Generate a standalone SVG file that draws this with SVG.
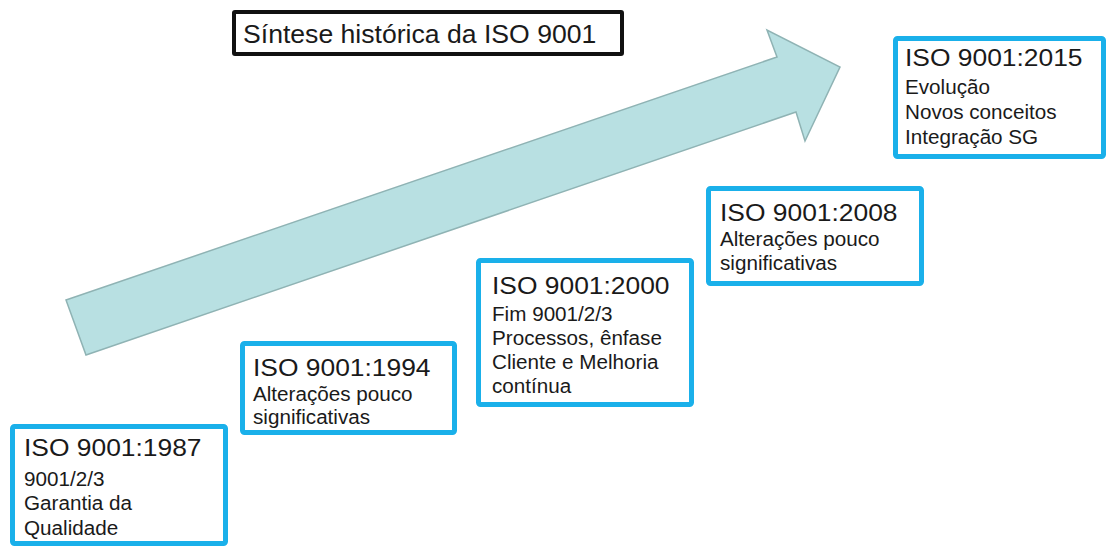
<svg xmlns="http://www.w3.org/2000/svg" width="1106" height="546" viewBox="0 0 1106 546">
<style>
.box{fill:#ffffff;stroke:#1ab0ea;stroke-width:5;}
.hd{font-family:"Liberation Sans",Arial,sans-serif;font-size:24px;fill:#1a1a1a;}
.bd{font-family:"Liberation Sans",Arial,sans-serif;font-size:19.5px;fill:#1a1a1a;}
.ttl{font-family:"Liberation Sans",Arial,sans-serif;font-size:26.6px;fill:#1a1a1a;}
</style>
<rect width="1106" height="546" fill="#ffffff"/>
<g id="connectors">
<polygon points="66,300 777,57 767,30 840,67 805,141 796,112 86,355" fill="#b8e0e2" stroke="#8fb3b4" stroke-width="1.5" stroke-linejoin="miter"/>
</g>
<g id="title">
<rect x="234" y="12" width="388" height="42" fill="#ffffff" stroke="#111111" stroke-width="4" rx="1"/>
<text class="ttl" x="243" y="43">Síntese histórica da ISO 9001</text>
</g>
<g id="iso1987">
<rect class="box" x="12.5" y="426.5" width="213" height="117" rx="2"/>
<g transform="translate(24,0) scale(1.1,1)"><text class="hd" x="0" y="456">ISO 9001:1987</text></g>
<g transform="translate(24,0) scale(1.06,1)">
<text class="bd" x="0" y="486">9001/2/3</text>
<text class="bd" x="0" y="510">Garantia da</text>
<text class="bd" x="0" y="535">Qualidade</text>
</g>
</g>
<g id="iso1994">
<rect class="box" x="242.5" y="343.5" width="212" height="89" rx="2"/>
<g transform="translate(253,0) scale(1.1,1)"><text class="hd" x="0" y="376">ISO 9001:1994</text></g>
<g transform="translate(253,0) scale(1.06,1)">
<text class="bd" x="0" y="401">Alterações pouco</text>
<text class="bd" x="0" y="424">significativas</text>
</g>
</g>
<g id="iso2000">
<rect class="box" x="478.5" y="260.5" width="213" height="144" rx="2"/>
<g transform="translate(492,0) scale(1.1,1)"><text class="hd" x="0" y="294">ISO 9001:2000</text></g>
<g transform="translate(492,0) scale(1.06,1)">
<text class="bd" x="0" y="321">Fim 9001/2/3</text>
<text class="bd" x="0" y="345">Processos, ênfase</text>
<text class="bd" x="0" y="369">Cliente e Melhoria</text>
<text class="bd" x="0" y="393">contínua</text>
</g>
</g>
<g id="iso2008">
<rect class="box" x="708.5" y="188.5" width="213" height="95" rx="2"/>
<g transform="translate(720,0) scale(1.1,1)"><text class="hd" x="0" y="221">ISO 9001:2008</text></g>
<g transform="translate(720,0) scale(1.06,1)">
<text class="bd" x="0" y="246">Alterações pouco</text>
<text class="bd" x="0" y="270">significativas</text>
</g>
</g>
<g id="iso2015">
<rect class="box" x="895.5" y="38.5" width="208" height="118" rx="2"/>
<g transform="translate(905,0) scale(1.1,1)"><text class="hd" x="0" y="66">ISO 9001:2015</text></g>
<g transform="translate(905,0) scale(1.06,1)">
<text class="bd" x="0" y="94">Evolução</text>
<text class="bd" x="0" y="119">Novos conceitos</text>
<text class="bd" x="0" y="144">Integração SG</text>
</g>
</g>
</svg>
